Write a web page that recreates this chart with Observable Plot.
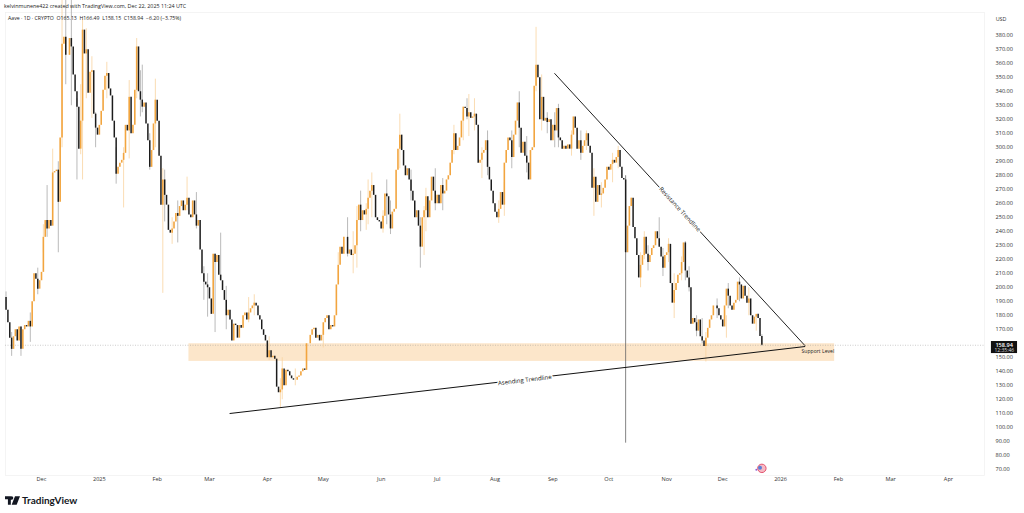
<!DOCTYPE html>
<html><head><meta charset="utf-8">
<script src="https://cdn.jsdelivr.net/npm/d3@7"></script>
<script src="https://cdn.jsdelivr.net/npm/@observablehq/plot@0.6"></script>
<style>
html,body{margin:0;padding:0;background:#fff;width:1024px;height:513px;overflow:hidden}
#chart{position:absolute;left:0;top:0}
.t{position:absolute;white-space:pre;font-family:"Open Sans",sans-serif;color:#222}
</style></head><body>
<div id="chart"></div>
<div class="t" style="left:4px;top:2px;font-size:5.35px;line-height:8px">kelvinmunene422 created with TradingView.com, Dec 22, 2025 11:24 UTC</div>
<div class="t" style="left:8px;top:14px;font-size:5.2px;line-height:8px">Aave · 1D · CRYPTO  O165.13  H166.49  L158.15  C158.94  −6.20 (−3.75%)</div>
<div class="t" style="left:5px;top:494px;font-family:Lato,sans-serif;font-weight:700;font-size:10px;line-height:13px;color:#131722"><svg width="15" height="9" viewBox="0 0 36 20" style="vertical-align:-0.5px;margin-right:2px"><path fill="#131722" d="M0 0h14v20H7V7H0zM16 0a4 4 0 1 1 0 8 4 4 0 0 1 0-8zM24 0h12l-8 20H16z"/></svg>TradingView</div>
<script>
const firstOpen = 193;
const closesNov24 = [184,175,164,156,165,170,162,172,156,170,173,172,176,172,190,210,206,199,205];
const closesDec24 = [211,236,248,242,248,244,282,283,284,261,307,374,379,366,366,378,372,352,340,329,299,319,384,367,370,339,354,355,324,314,309];
const closesJan25 = [316,326,341,351,353,342,337,319,307,281,286,289,291,296,316,312,336,310,316,341,372,340,334,329,332,317,305,286,298,317,334];
const closesFeb25 = [319,294,259,277,266,259,241,239,242,247,253,251,258,262,255,259,264,252,250,262,252,244,248,227,210,204,202,200];
const closesMar25 = [192,181,224,218,223,209,205,198,191,180,184,177,162,174,173,164,173,171,180,182,177,182,185,187,189,187,180,177,170,166,162];
const closesApr25 = [150,155,150,151,149,129,125,127,142,130,141,140,137,135,134,134,136,137,140,142,141,160,160,166,170,171,164,166,162,166];
const closesMay25 = [175,178,180,170,173,172,180,202,216,229,224,236,236,224,227,223,224,230,248,259,248,255,252,256,264,269,273,266,250,248,247];
const closesJun25 = [242,251,267,265,252,242,254,256,284,299,309,298,287,280,285,277,269,262,250,255,244,229,250,255,265,250,262,279,269,260];
const closesJul25 = [266,260,273,267,269,277,280,289,298,310,298,301,307,319,329,328,322,325,321,322,324,316,289,291,296,298,305,286,277,269,260];
const closesAug25 = [254,250,256,268,259,289,298,307,305,293,309,319,332,314,296,304,294,289,277,298,300,344,359,350,320,336,319,321,318,320,305];
const closesSep25 = [316,312,328,307,305,299,301,299,302,299,309,322,314,299,305,296,301,305,310,301,296,271,279,261,273,266,267,271,277,286];
const closesOct25 = [284,288,291,289,293,298,286,278,277,225,244,258,264,243,235,223,207,216,223,236,224,218,223,228,230,240,235,229,222,214,223];
const closesNov25 = [225,231,203,189,198,203,209,210,218,232,212,207,200,174,178,175,169,177,165,162,158,164,171,177,180,187,187,185,180,177];
const closesDec25 = [172,187,199,194,187,184,189,191,204,202,192,201,194,189,192,180,174,179,181,178,165.13,158.94];

const wickIndex = [0,3,8,13,17,20,22,25,28,30,32,35,38,40,41,43,46,48,54,59,63,66,70,72,73,77,80,84,85,89,92,97,102,106,108,112,115,118,130,133,141,147,148,155,170,178,183,186,188,190,193,194,196,202,204,206,211,217,222,224,225,230,234,240,245,247,248,251,255,258,264,267,271,275,279,284,287,290,294,296,303,308,311,315,319,325,328,332,340,342,344,350,352,355,358,362,364,366,370,373,375,381,386,387,393,398,402,405];
const wickLow = [184,151,151,161,195,225,236,278,225,300,345,330,277,295,277,335,321,300,335,274,257,292,335,322,325,284,300,196,247,231,232,255,242,191,179,168,205,170,175,180,148,114,120,130,157,205,222,210,214,240,241,245,250,239,245,238,285,262,214,223,240,255,255,295,305,320,308,312,278,280,246,251,285,300,282,340,312,310,300,300,294,291,298,251,257,275,285,89,200,220,212,230,208,218,178,205,205,197,165,160,147,178,164,185,190,180,169,158.15];
const wickHigh = [197,168,172,182,214,245,273,299,290,410,410,410,335,345,392,385,365,325,361,300,300,348,378,355,359,310,349,285,284,250,262,279,268,215,210,224,239,201,193,195,165,135,150,142,170,225,250,240,258,269,260,277,282,255,277,262,324,284,250,258,271,285,278,316,325,335,338,335,300,312,262,275,312,340,308,386,352,325,325,331,312,312,312,285,275,296,301,280,225,240,230,250,228,235,210,222,233,215,180,178,168,192,180,203,207,200,180,166.49];

const priceTicks = [70,80,90,100,110,120,130,140,150,170,180,190,200,210,220,230,240,250,260,270,280,290,300,310,320,330,340,350,360,370,380];
const timeTickDates = ["2024-12-01","2025-01-01","2025-02-01","2025-03-01","2025-04-01","2025-05-01","2025-06-01","2025-07-01","2025-08-01","2025-09-01","2025-10-01","2025-11-01","2025-12-01","2026-01-01","2026-02-01","2026-03-01","2026-04-01"];
const timeTickLabels = ["Dec","2025","Feb","Mar","Apr","May","Jun","Jul","Aug","Sep","Oct","Nov","Dec","2026","Feb","Mar","Apr"];

const zoneDates = ["2025-02-18","2026-01-30"], zonePrices = [147.4,160];
const resistanceDates = ["2025-09-02","2026-01-14"], resistancePrices = [353,158.8];
const ascendingDates = ["2025-03-12","2026-01-14"], ascendingPrices = [110.2,158];
const noteTexts = ["Resistance Trendline","Asending Trendline"];
const noteDates = ["2025-11-08","2025-08-17"];
const notePrices = [256,134];
const noteAngles = [47.4,-6.6];
const supportText = "Support Level", supportDate = "2026-01-21", supportPrice = 154.5;
const lastPrice = 158.94, lastPriceBoxDates = ["2026-04-24","2026-05-08"], lastPriceBoxPrices = [153,161.6];

const D = s => new Date(s + "T00:00:00Z");
const closes = [].concat(closesNov24,closesDec24,closesJan25,closesFeb25,closesMar25,closesApr25,closesMay25,closesJun25,closesJul25,closesAug25,closesSep25,closesOct25,closesNov25,closesDec25);
const start = D("2024-11-12");
const candles = closes.map((c,i)=>({date:d3.utcDay.offset(start,i),open:i?closes[i-1]:firstOpen,close:c}));
const wicks = wickIndex.map((k,i)=>({date:candles[k].date,low:wickLow[i],high:wickHigh[i],up:candles[k].close>=candles[k].open}));
const ups = candles.filter(d=>d.close>=d.open), downs = candles.filter(d=>d.close<d.open);
const line = (ds,ps)=>ds.map((d,i)=>({date:D(d),price:ps[i]}));
const notes = noteTexts.map((t,i)=>({t,date:D(noteDates[i]),price:notePrices[i],a:noteAngles[i]}));
const labelOf = new Map(timeTickDates.map((d,i)=>[+D(d),timeTickLabels[i]]));

const chart = Plot.plot({
  width:1024,height:513,
  marginLeft:5,marginRight:40,marginTop:12,marginBottom:38,
  style:{background:"#fff",fontFamily:"'Open Sans',sans-serif",overflow:"visible"},
  x:{type:"utc",domain:[new Date(Date.UTC(2024,10,11,17)),new Date(Date.UTC(2026,3,20,7))]},
  y:{type:"linear",domain:[65.9,396.6]},
  marks:[
    Plot.frame({stroke:"#efefef",strokeWidth:0.7}),
    Plot.rect([{}],{x1:()=>D(zoneDates[0]),x2:()=>D(zoneDates[1]),y1:()=>zonePrices[0],y2:()=>zonePrices[1],fill:"#fce6ca"}),
    Plot.ruleY([lastPrice],{stroke:"#9a9a9a",strokeWidth:0.5,strokeDasharray:"1,1.5"}),
    Plot.ruleX(wicks.filter(d=>d.up),{x:"date",y1:"low",y2:"high",stroke:"#f9d3a0",strokeWidth:0.8}),
    Plot.ruleX(wicks.filter(d=>!d.up),{x:"date",y1:"low",y2:"high",stroke:d=>d.high-d.low>150?"#666":"#a8a8a8",strokeWidth:0.8}),
    Plot.ruleX(ups,{x:"date",y1:"open",y2:"close",stroke:"#f2a53f",strokeWidth:1.6}),
    Plot.ruleX(downs,{x:"date",y1:"open",y2:"close",stroke:"#1c1c1c",strokeWidth:1.5}),
    Plot.line(line(resistanceDates,resistancePrices),{x:"date",y:"price",stroke:"#222",strokeWidth:1}),
    Plot.line(line(ascendingDates,ascendingPrices),{x:"date",y:"price",stroke:"#111",strokeWidth:1}),
    Plot.text(notes,{x:"date",y:"price",text:"t",rotate:"a",fontSize:6,fontWeight:500,fill:"#111",stroke:"#fff",strokeWidth:3,paintOrder:"stroke"}),
    Plot.text([supportText],{x:()=>D(supportDate),y:()=>supportPrice,fontSize:5.1,fill:"#222"}),
    Plot.dot([{date:D("2025-12-22"),price:71}],{x:"date",y:"price",r:4.2,fill:"#f6b9c4",stroke:"#e2506c",strokeWidth:1}),
    Plot.dot([{date:D("2025-12-21"),price:71.5}],{x:"date",y:"price",r:2,fill:"#5a7fd6"}),
    Plot.dot([{date:D("2025-12-19"),price:70}],{x:"date",y:"price",r:0.9,fill:"#8a5cd6"}),
    Plot.axisY({anchor:"right",ticks:priceTicks,tickSize:0,tickPadding:11,dy:-1,fontSize:5.6,fill:"#333",tickFormat:d=>d.toFixed(2),label:null}),
    Plot.axisX({anchor:"bottom",ticks:timeTickDates.map(D),tickSize:0,tickPadding:2,fontSize:5.6,fill:"#333",tickFormat:d=>labelOf.get(+d),label:null}),
    Plot.text(["USD"],{frameAnchor:"top-right",dx:22,dy:5,fontSize:5.4,fill:"#333"}),
    Plot.rect([{}],{x1:()=>D(lastPriceBoxDates[0]),x2:()=>D(lastPriceBoxDates[1]),y1:()=>lastPriceBoxPrices[0],y2:()=>lastPriceBoxPrices[1],fill:"#111",clip:false}),
    Plot.text(["158.94"],{x:()=>D(lastPriceBoxDates[0]),y:()=>lastPrice,dx:4,dy:0,textAnchor:"start",fontSize:5.6,fill:"#fff",fontWeight:600}),
    Plot.text(["12:35:46"],{x:()=>D(lastPriceBoxDates[0]),y:()=>lastPrice,dx:3,dy:5.5,textAnchor:"start",fontSize:5,fill:"#ddd"})
  ]
});
document.getElementById("chart").appendChild(chart);
</script>
</body></html>
